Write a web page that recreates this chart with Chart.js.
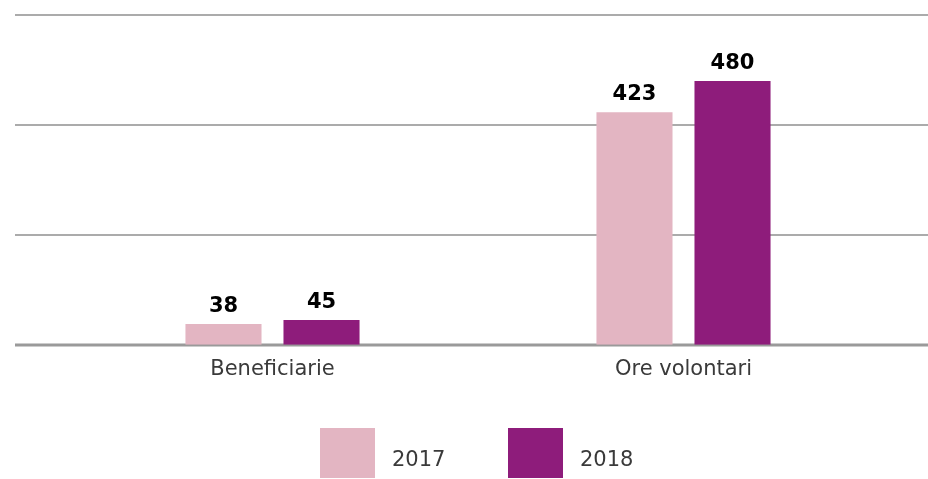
<!DOCTYPE html>
<html>
<head>
<meta charset="utf-8">
<script src="https://cdn.jsdelivr.net/npm/chart.js@4"></script>
<style>
  html, body { margin: 0; padding: 0; background: #fff; }
  #wrap { width: 928px; height: 479px; position: relative; }
  #legend { position: absolute; top: 428px; left: 320px; display: flex; font-family: "DejaVu Sans", sans-serif; font-size: 21px; color: #3a3a3a; }
  #legend .item { display: flex; width: 188px; }
  #legend .box { width: 55px; height: 50px; margin-right: 17px; }
  #legend .txt { line-height: 50px; padding-top: 6px; }
</style>
</head>
<body>
<div id="wrap"><canvas id="volChart"></canvas><div id="legend"></div></div>
<script>
const categories = ['Beneficiarie', 'Ore volontari'];
const seriesNames = ['2017', '2018'];
const values2017 = [38, 423];
const values2018 = [45, 480];
const seriesColors = ['#e3b5c2', '#8e1c7b'];
const yTicks = [0, 200, 400, 600];

// grid lines run across the whole width, wider than the bar area
const wideGrid = {
    id: 'wideGrid',
    beforeDatasetsDraw(chart) {
        const ctx = chart.ctx;
        const y = chart.scales.y;
        ctx.save();
        yTicks.forEach((t) => {
            const py = Math.round(y.getPixelForValue(t));
            ctx.beginPath();
            ctx.lineWidth = t === 0 ? 3 : 2;
            ctx.strokeStyle = t === 0 ? '#9a9a9a' : '#ababab';
            ctx.moveTo(15, py);
            ctx.lineTo(chart.width, py);
            ctx.stroke();
        });
        ctx.restore();
    }
};

const barValues = {
    id: 'barValues',
    afterDatasetsDraw(chart) {
        const ctx = chart.ctx;
        ctx.save();
        ctx.font = 'bold 21px "DejaVu Sans", sans-serif';
        ctx.fillStyle = '#000';
        ctx.textAlign = 'center';
        ctx.textBaseline = 'alphabetic';
        chart.data.datasets.forEach((ds, i) => {
            chart.getDatasetMeta(i).data.forEach((bar, j) => {
                ctx.fillText(String(ds.data[j]), bar.x, bar.y - 12);
            });
        });
        ctx.restore();
    }
};

const chart = new Chart(document.getElementById('volChart').getContext('2d'), {
    type: 'bar',
    data: {
        labels: categories,
        datasets: [
            { label: seriesNames[0], data: values2017, backgroundColor: seriesColors[0] },
            { label: seriesNames[1], data: values2018, backgroundColor: seriesColors[1] }
        ]
    },
    options: {
        responsive: true,
        maintainAspectRatio: false,
        animation: false,
        layout: { padding: { left: 67, right: 39, top: 15, bottom: 93 } },
        datasets: { bar: { categoryPercentage: 0.477, barPercentage: 0.776 } },
        plugins: {
            tooltip: { enabled: false },
            legend: { display: false }
        },
        scales: {
            x: {
                grid: { display: false },
                border: { display: false },
                ticks: { color: '#3a3a3a', padding: 4, font: { family: '"DejaVu Sans", sans-serif', size: 21 } }
            },
            y: {
                min: 0,
                max: 600,
                display: false
            }
        }
    },
    plugins: [wideGrid, barValues]
});

document.getElementById('legend').innerHTML = chart.data.datasets.map((ds) => `
    <div class="item"><div class="box" style="background:${ds.backgroundColor}"></div><div class="txt">${ds.label}</div></div>
`).join('');
</script>
</body>
</html>
